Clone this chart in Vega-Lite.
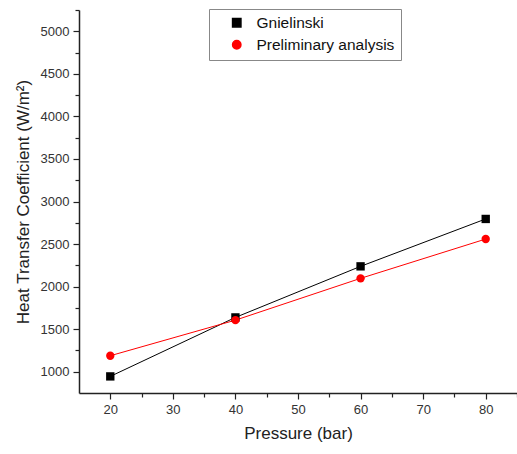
{
  "$schema": "https://vega.github.io/schema/vega-lite/v6.json",
  "autosize": "none",
  "width": 438,
  "height": 383,
  "padding": {"left": 79, "top": 10, "right": 0, "bottom": 61},
  "background": "white",
  "config": {
    "font": "Liberation Sans",
    "view": {"stroke": null},
    "axis": {"grid": false, "domainColor": "#222", "tickColor": "#222", "labelColor": "#333", "titleColor": "#222", "labelFont": "Liberation Sans", "titleFont": "Liberation Sans", "titleFontWeight": "normal", "domainWidth": 1.5, "tickWidth": 1.2}
  },
  "data": {"values": [
    {"p": 20, "h": 945, "s": "Gnielinski"},
    {"p": 40, "h": 1638, "s": "Gnielinski"},
    {"p": 60, "h": 2238, "s": "Gnielinski"},
    {"p": 80, "h": 2795, "s": "Gnielinski"},
    {"p": 20, "h": 1188, "s": "Preliminary analysis"},
    {"p": 40, "h": 1606, "s": "Preliminary analysis"},
    {"p": 60, "h": 2097, "s": "Preliminary analysis"},
    {"p": 80, "h": 2559, "s": "Preliminary analysis"}
  ]},
  "encoding": {
    "x": {"field": "p", "type": "quantitative", "title": "Pressure (bar)",
      "scale": {"domain": [15, 85], "nice": false, "zero": false},
      "axis": {"values": [20, 25, 30, 35, 40, 45, 50, 55, 60, 65, 70, 75, 80, 85], "format": "d",
        "labelExpr": "datum.value % 10 === 0 ? datum.label : ''",
        "tickSize": {"condition": {"test": "datum.value % 10 === 0", "value": 6}, "value": 4},
        "labelFontSize": 13, "titleFontSize": 17, "labelPadding": 4, "titlePadding": 9}},
    "y": {"field": "h", "type": "quantitative", "title": "Heat Transfer Coefficient (W/m²)",
      "scale": {"domain": [750, 5250], "nice": false, "zero": false},
      "axis": {"values": [1000, 1250, 1500, 1750, 2000, 2250, 2500, 2750, 3000, 3250, 3500, 3750, 4000, 4250, 4500, 4750, 5000, 5250], "format": "d",
        "labelExpr": "datum.value % 500 === 0 ? datum.label : ''",
        "tickSize": {"condition": {"test": "datum.value % 500 === 0", "value": 6}, "value": 4},
        "labelFontSize": 13, "titleFontSize": 17, "labelPadding": 4, "titlePadding": 8}},
    "color": {"field": "s", "type": "nominal", "title": null,
      "scale": {"domain": ["Gnielinski", "Preliminary analysis"], "range": ["black", "red"]},
      "legend": {"orient": "none", "legendX": 130, "legendY": -1, "labelFontSize": 15.5, "labelColor": "#111", "strokeColor": "#888", "padding": 6, "symbolSize": 70, "symbolOffset": 14, "rowPadding": 5, "labelOffset": 12}},
    "shape": {"field": "s", "type": "nominal", "title": null,
      "scale": {"domain": ["Gnielinski", "Preliminary analysis"], "range": ["square", "circle"]}}
  },
  "layer": [
    {"mark": {"type": "line", "strokeWidth": 1}, "encoding": {"shape": {"value": "circle"}}},
    {"mark": {"type": "point", "filled": true, "size": 70, "opacity": 1}}
  ]
}
